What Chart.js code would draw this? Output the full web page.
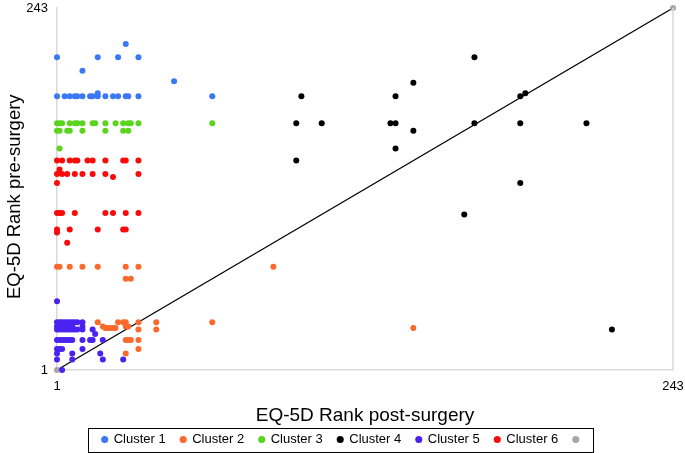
<!DOCTYPE html>
<html>
<head>
<meta charset="utf-8">
<script src="https://cdn.jsdelivr.net/npm/chart.js@4.4.1/dist/chart.umd.min.js"></script>
<style>
  html, body { margin: 0; padding: 0; background: #fff; }
  #wrap { width: 685px; height: 453px; }
</style>
</head>
<body>
<div id="wrap"><canvas id="rankChart" width="685" height="453"></canvas></div>
<script>
// ranks: x = post-surgery, y = pre-surgery
const cluster1X = [1, 17, 25, 33, 28, 11, 47, 1, 4, 6, 8, 9, 11, 14, 15, 17, 17, 20, 23, 25, 28, 29, 33, 62];
const cluster1Y = [210, 210, 210, 210, 219, 201, 194, 184, 184, 184, 184, 184, 184, 184, 184, 184, 186, 184, 184, 184, 184, 184, 184, 184];

const cluster2X = [1, 2, 6, 11, 17, 28, 33, 86, 28, 30, 17, 25, 27, 28, 33, 40, 62, 19, 20, 21, 22, 23, 24, 28, 29, 33, 40, 28, 29, 30, 33, 33, 28, 141];
const cluster2Y = [70, 70, 70, 70, 70, 70, 70, 70, 62, 62, 33, 33, 33, 33, 33, 33, 33, 30, 29, 29, 29, 29, 29, 30, 30, 28, 28, 21, 21, 21, 21, 15, 12, 29];

const cluster3X = [1, 2, 3, 6, 8, 9, 11, 15, 16, 20, 24, 27, 29, 30, 33, 62, 1, 2, 5, 6, 11, 20, 27, 29, 2];
const cluster3Y = [166, 166, 166, 166, 166, 166, 166, 166, 166, 166, 166, 166, 166, 166, 166, 166, 161, 161, 161, 161, 161, 161, 161, 161, 149];

const cluster4X = [165, 141, 97, 134, 183, 185, 95, 105, 132, 134, 165, 183, 209, 141, 134, 95, 183, 161, 219];
const cluster4Y = [210, 193, 184, 184, 184, 186, 166, 166, 166, 166, 166, 166, 166, 161, 149, 141, 126, 105, 28];

const cluster5X = [1, 1, 2, 3, 4, 5, 6, 7, 8, 9, 11, 1, 2, 3, 4, 5, 6, 7, 11, 1, 2, 3, 4, 5, 6, 7, 8, 9, 11, 15, 16, 1, 2, 3, 4, 5, 6, 7, 11, 14, 15, 19, 1, 2, 3, 11, 1, 7, 18, 1, 7, 19, 27, 3];
const cluster5Y = [47, 33, 33, 33, 33, 33, 33, 33, 33, 33, 33, 30, 30, 30, 30, 30, 30, 30, 30, 28, 28, 28, 28, 28, 28, 28, 28, 28, 28, 28, 25, 21, 21, 21, 21, 21, 21, 21, 21, 21, 21, 21, 15, 15, 15, 15, 12, 12, 12, 8, 8, 8, 8, 1];

const cluster6X = [1, 3, 6, 8, 9, 13, 15, 20, 27, 28, 33, 2, 1, 3, 5, 8, 11, 15, 20, 33, 23, 1, 1, 2, 3, 8, 20, 23, 28, 33, 1, 1, 6, 17, 27, 28, 5];
const cluster6Y = [141, 141, 141, 141, 141, 141, 141, 141, 141, 141, 141, 135, 132, 132, 132, 132, 132, 132, 132, 132, 130, 126, 106, 106, 106, 106, 106, 106, 106, 106, 95, 93, 95, 95, 95, 95, 86];

const refX = [1, 243];
const refY = [1, 243];

const xTicks = [1, 243];
const yTicks = [1, 243];

const seriesNames = ['Cluster 1', 'Cluster 2', 'Cluster 3', 'Cluster 4', 'Cluster 5', 'Cluster 6', ''];
const seriesColors = ['#3a78f5', '#fb6a2c', '#5ad41c', '#000000', '#4a22f0', '#fb0a0a', '#a6a6a6'];

function toPoints(xs, ys) {
  return xs.map((x, i) => ({ x: x, y: ys[i] }));
}

const allX = [cluster1X, cluster2X, cluster3X, cluster4X, cluster5X, cluster6X, refX];
const allY = [cluster1Y, cluster2Y, cluster3Y, cluster4Y, cluster5Y, cluster6Y, refY];

const datasets = allX.map((xs, i) => ({
  label: seriesNames[i],
  data: toPoints(xs, allY[i]),
  backgroundColor: seriesColors[i],
  borderColor: seriesColors[i],
  pointBackgroundColor: seriesColors[i],
  pointBorderColor: seriesColors[i],
  pointRadius: 3,
  pointBorderWidth: 0,
  clip: false
}));

// the grey series carries the black diagonal
const diag = datasets[6];
diag.showLine = true;
diag.borderColor = '#000';
diag.borderWidth = 1.3;

// box round the legend and the right edge of the plot
const framePlugin = {
  id: 'frame',
  afterDraw(chart) {
    const c = chart.ctx;
    const a = chart.chartArea;
    c.save();
    c.strokeStyle = '#d9d9d9';
    c.lineWidth = 1.5;
    c.beginPath();
    c.moveTo(a.right, a.top);
    c.lineTo(a.right, a.bottom);
    c.stroke();

    const hb = chart.legend.legendHitBoxes;
    if (hb && hb.length) {
      const first = hb[0], last = hb[hb.length - 1];
      const x1 = first.left + 2.5 - 17;
      const x2 = last.left + 2.5 + 17;
      const cy = first.top + first.height / 2;
      c.strokeStyle = '#000';
      c.lineWidth = 1;
      c.strokeRect(Math.round(x1) + 0.5, Math.round(cy - 12) + 0.5, Math.round(x2 - x1), 24);
    }
    c.restore();
  }
};

Chart.defaults.font.family = 'Arial, "Liberation Sans", sans-serif';
Chart.defaults.color = '#000';

const ctx = document.getElementById('rankChart');
new Chart(ctx, {
  type: 'scatter',
  data: { datasets: datasets },
  options: {
    responsive: false,
    animation: false,
    events: [],
    layout: { padding: { top: 8, right: 12, left: 14, bottom: 0 } },
    scales: {
      x: {
        type: 'linear',
        min: 1,
        max: 243,
        afterBuildTicks: (axis) => { axis.ticks = xTicks.map(v => ({ value: v })); },
        afterFit: (scale) => {
          scale.height = 48;
          scale.paddingLeft = 0;
          scale.paddingRight = 0;
        },
        grid: { display: false, drawTicks: false },
        border: { display: true, color: '#d9d9d9', width: 1.5 },
        ticks: { font: { size: 13 }, padding: 9, maxRotation: 0, autoSkip: false },
        title: {
          display: true,
          text: 'EQ-5D Rank post-surgery',
          font: { size: 19 },
          padding: { top: 0, bottom: -9 }
        }
      },
      y: {
        type: 'linear',
        min: 1,
        max: 243,
        afterBuildTicks: (axis) => { axis.ticks = yTicks.map(v => ({ value: v })); },
        afterFit: (scale) => {
          scale.width = 43;
          scale.paddingTop = 0;
          scale.paddingBottom = 0;
        },
        grid: { display: false, drawTicks: false },
        border: { display: true, color: '#d9d9d9', width: 1.5 },
        ticks: { font: { size: 13 }, padding: 9, autoSkip: false },
        title: {
          display: true,
          text: 'EQ-5D Rank pre-surgery   ',
          font: { size: 18.5 },
          padding: { top: -10, bottom: 0 }
        }
      }
    },
    plugins: {
      tooltip: { enabled: false },
      legend: {
        position: 'bottom',
        maxHeight: 35,
        labels: {
          usePointStyle: true,
          pointStyle: 'circle',
          boxWidth: 5,
          boxHeight: 5,
          padding: 15,
          font: { size: 13 },
          color: '#000'
        }
      }
    }
  },
  plugins: [framePlugin]
});
</script>
</body>
</html>
